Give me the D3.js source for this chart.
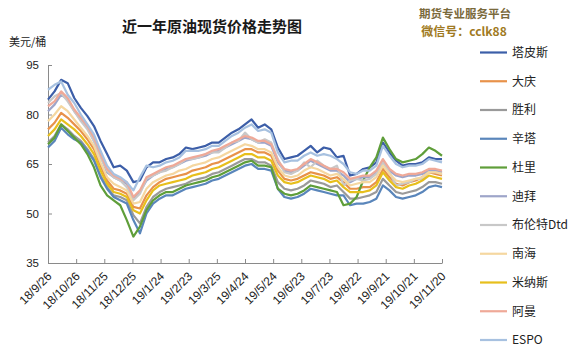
<!DOCTYPE html>
<html>
<head>
<meta charset="utf-8">
<script src="https://cdn.jsdelivr.net/npm/d3@7"></script>
<style>
  html, body { margin: 0; padding: 0; background: #fff; }
  svg { display: block; }
  text { font-family: "Liberation Sans", Arial, sans-serif; }
  .cjk { font-family: "Noto Sans CJK SC", "Noto Sans", sans-serif; }
</style>
</head>
<body>
<svg id="chart" width="568" height="355"></svg>
<script>
// ---------------- DATA ----------------
const title = "近一年原油现货价格走势图";
const unitLabel = "美元/桶";
const watermark1 = "期货专业服务平台";
const watermark2 = "微信号：cclk88";

const dates = [
  "2018-09-26","2018-10-03","2018-10-10","2018-10-17","2018-10-24","2018-10-31","2018-11-07","2018-11-14","2018-11-21","2018-11-28",
  "2018-12-05","2018-12-12","2018-12-19","2018-12-26","2019-01-02","2019-01-09","2019-01-16","2019-01-23","2019-01-30","2019-02-06",
  "2019-02-13","2019-02-20","2019-02-27","2019-03-06","2019-03-13","2019-03-20","2019-03-27","2019-04-03","2019-04-10","2019-04-17",
  "2019-04-24","2019-05-01","2019-05-08","2019-05-15","2019-05-22","2019-05-29","2019-06-05","2019-06-12","2019-06-19","2019-06-26",
  "2019-07-03","2019-07-10","2019-07-17","2019-07-24","2019-07-31","2019-08-07","2019-08-14","2019-08-21","2019-08-28","2019-09-04",
  "2019-09-11","2019-09-18","2019-09-25","2019-10-02","2019-10-09","2019-10-16","2019-10-23","2019-10-30","2019-11-06","2019-11-13",
  "2019-11-20"
];

const seriesNames = ["塔皮斯","大庆","胜利","辛塔","杜里","迪拜","布伦特Dtd","南海","米纳斯","阿曼","ESPO"];

const tapis = [84.5,87,90.5,89.5,85,82,79.5,76.5,72,68, 64,64.5,63,59.5,60,64,65.5,65.5,66.5,67, 68,70,69.5,70,70.5,71.5,71.5,73,74.5,75.5, 77,78.5,76,77,75.5,70,66.5,67,67.5,69, 70.5,68.5,70,69.5,67,67.5,61.5,62,63.5,64, 65.5,71.5,68.5,66,64.5,65,65,65.5,67,66.5,66.5];
const daqing = [75.5,77.5,80.5,79,77,75,72.5,69.5,64.5,60, 57.5,57,56,52,51.5,55.5,58,59.5,60.5,61, 61.5,62,63,63.5,64,65,65.5,66.5,67.5,68.5, 69.5,69.5,68.5,68.5,67.5,63,60.5,60,60.5,61.5, 62.5,62,61.5,60.5,61,59.5,57.5,57.5,58,58, 59.5,63.5,61,59,58.5,59.5,60,61,62.5,62,61.5];
const shengli = [71.5,73.5,77,75.5,73.5,72,69.5,66.5,61.5,58, 55.5,55,54,49.5,47,52,55,56.5,57.5,58, 58.5,59,60,60.5,61,62,62.5,63.5,64.5,65.5, 66.5,66.5,65.5,65.5,64.5,59.5,57.5,57,57.5,58.5, 60,59.5,59,58,58.5,56.5,54.5,54.5,55,55.5, 56.5,60.5,58.5,56.5,56,56.5,57,58,59.5,59.5,59];
const sinta = [70,72,76,74,72.5,71.5,69,66,61,57.5, 55,54,53,48,44,50,53,54.5,55.5,55.5, 56.5,57.5,58,58.5,59,60,60.5,61.5,62.5,63.5, 64.5,65,63.5,63.5,63,57.5,55,54.5,55,56, 57.5,57,56.5,56,55.5,55.5,52.5,53,53,53.5, 54.5,58.5,57,55,54.5,55,55.5,56.5,58,58.5,58];
const duri = [71,73,77,75,73,71,68,64,58.5,55.5, 54,52.5,48,43,46,51,54,55.5,56.5,56.5, 57.5,58.5,59,59.5,60,61,61.5,62.5,63.5,64.5, 65.5,66,64.5,64.5,64,57.5,56,55.5,56,57, 58.5,58,57.5,57,56.5,52.5,53,55,60,64, 67,73,69.5,66.5,65.5,66,66.5,68,70,69,67.5];
const dubai = [81,83,86,84.5,81,78.5,76,72,67.5,62.5, 61,60,59,54.5,56.5,60,61.5,62.5,63.5,64, 65,66,66.5,67,67.5,68.5,69,70,71,72, 73,72.5,71.5,71.5,70.5,65.5,63,62.5,63,64.5, 66,65,64,63,63,61.5,59.5,60.5,61,61, 62.5,66,63,61.5,61,61.5,61.5,62,63,63,62.5];
const brent = [83.5,85.5,86.5,84,81,78,75.5,72,67,63, 61,60,58,54,56,60.5,61.5,62.5,63,64, 65,66.5,66.5,67,68,68.5,68.5,70,71.5,72, 74.5,72.5,71.5,72.5,71.5,66.5,62.5,62,63,65.5, 64,66,64.5,63.5,64.5,58.5,60,60.5,60,60.5, 62,65.5,62.5,58.5,59,59.5,60.5,60.5,62.5,62.5,62];
const nanhai = [78,80,82.5,81,78.5,76,73.5,70.5,65.5,61, 59,58,57,53,53.5,57.5,59.5,60.5,61.5,62, 63,63.5,64.5,65,65.5,66.5,67,68,69,70, 71,70.5,69.5,69.5,68.5,64,61.5,61,61.5,63, 64,63.5,62.5,61.5,62,60.5,58.5,59,59.5,59.5, 61,64.5,62,60,59.5,60,60.5,61,62.5,62.5,62];
const minas = [73.5,75.5,78.5,77,75.5,73.5,71,68,63,59, 56.5,56,55,51,50,54,57,58.5,59,59.5, 60,60.5,61.5,62,62.5,63.5,64,65,66,67, 68,68,67,67,66,61.5,59.5,59,59.5,60.5, 61.5,61,60.5,59.5,60,58,56.5,56.5,56.5,57, 58.5,62.5,60,58,57.5,58.5,59,60,61.5,61,60.5];
const oman = [82.5,84,87,85,81.5,79,76.5,73,68,63.5, 61.5,60.5,59.5,55,57,61,62,63,64,64.5, 65.5,66.5,67,67.5,68,69,69.5,70.5,71.5,72.5, 73.5,73,72,72,71,66,63.5,63,63.5,65, 66.5,65.5,64.5,63.5,63.5,62.5,60.5,61,61.5,61.5, 63,66.5,63.5,62,61.5,62,62,62.5,63.5,63.5,63];
const espo = [87.5,89,90,86,83.5,80,77,74,69,64.5, 62,61,59.5,57,61,64.5,64,64.5,65.5,66, 67,69,69,69,69.5,70.5,70.5,72,73.5,74.5, 76,77,75,75.5,74.5,68.5,65.5,66,66,67.5, 68.5,67.5,68,67.5,66.5,65,62.5,62,63,63, 64.5,70.5,67.5,65,64,64.5,64.5,65,66.5,66,65.5];

const seriesValues = [tapis, daqing, shengli, sinta, duri, dubai, brent, nanhai, minas, oman, espo];
const seriesColors = ["#3c5ea8","#e8924a","#9a9a9a","#5a86bb","#5f9e3a","#9ea5c9","#c8c8c8","#f5d7a0","#e7bf1c","#efa998","#a7c1e0"];

const yTicks = [35, 50, 65, 80, 95];
const xTickLabels = ["18/9/26","18/10/26","18/11/25","18/12/25","19/1/24","19/2/23","19/3/25","19/4/24","19/5/24","19/6/23","19/7/23","19/8/22","19/9/21","19/10/21","19/11/20"];

// ---------------- CHART ----------------
const svg = d3.select("#chart");
svg.append("rect").attr("width", 568).attr("height", 355).attr("fill", "#fff");

const parseDate = d3.timeParse("%Y-%m-%d");
const parseTick = d3.timeParse("%y/%m/%d");
const dateObjs = dates.map(parseDate);
const tickDates = xTickLabels.map(parseTick);

const x = d3.scaleTime()
  .domain([tickDates[0], tickDates[tickDates.length - 1]])
  .range([48, 442]);
const y = d3.scaleLinear().domain([35, 95]).range([263, 65]);

// title & unit
svg.append("text").attr("class", "cjk")
  .attr("x", 212).attr("y", 32).attr("text-anchor", "middle")
  .attr("font-size", 15).attr("font-weight", "bold").attr("fill", "#1a1a1a")
  .text(title);
svg.append("text").attr("class", "cjk")
  .attr("x", 9).attr("y", 46)
  .attr("font-size", 11).attr("fill", "#222")
  .text(unitLabel);

// watermark
svg.append("text").attr("class", "cjk")
  .attr("x", 465).attr("y", 18).attr("text-anchor", "middle")
  .attr("font-size", 11.5).attr("font-weight", "bold").attr("fill", "#7a6a3c")
  .text(watermark1);
svg.append("text").attr("class", "cjk")
  .attr("x", 464).attr("y", 36).attr("text-anchor", "middle")
  .attr("font-size", 12).attr("font-weight", "bold").attr("fill", "#a07a22")
  .text(watermark2);

// axes
const axisColor = "#8a8a8a";
const gy = svg.append("g").attr("transform", "translate(48,0)")
  .call(d3.axisLeft(y).tickValues(yTicks).tickSize(-4).tickSizeOuter(0).tickPadding(9));
gy.select(".domain").attr("stroke", axisColor);
gy.selectAll(".tick line").attr("stroke", axisColor);
gy.selectAll(".tick text").attr("font-size", 11.5).attr("fill", "#222")
  .attr("font-family", "'Liberation Sans', Arial, sans-serif");

const gx = svg.append("g").attr("transform", "translate(0,263)")
  .call(d3.axisBottom(x).tickValues(tickDates).tickSize(-4).tickSizeOuter(0)
    .tickFormat((d, i) => xTickLabels[i]));
gx.select(".domain").attr("stroke", axisColor);
gx.selectAll(".tick line").attr("stroke", axisColor);
gx.selectAll(".tick text")
  .attr("font-size", 12).attr("fill", "#222")
  .attr("font-family", "'Liberation Sans', Arial, sans-serif")
  .attr("x", 0).attr("y", 0).attr("dy", 0)
  .attr("text-anchor", "end")
  .attr("transform", "translate(4,14) rotate(-45)");

// lines
const line = d3.line()
  .x((d, i) => x(dateObjs[i]))
  .y(d => y(d));

svg.append("g").selectAll("path")
  .data(seriesValues)
  .join("path")
  .attr("d", d => line(d))
  .attr("fill", "none")
  .attr("stroke", (d, i) => seriesColors[i])
  .attr("stroke-width", 2.2)
  .attr("stroke-linejoin", "round");

// legend
const lg = svg.append("g");
seriesNames.forEach((name, i) => {
  const yy = 52.5 + i * 28.75;
  lg.append("line").attr("x1", 480).attr("x2", 507).attr("y1", yy).attr("y2", yy)
    .attr("stroke", seriesColors[i]).attr("stroke-width", 2.2);
  lg.append("text").attr("class", "cjk")
    .attr("x", 512).attr("y", yy + 4.3)
    .attr("font-size", 12).attr("fill", "#222")
    .text(name);
});
</script>
</body>
</html>
